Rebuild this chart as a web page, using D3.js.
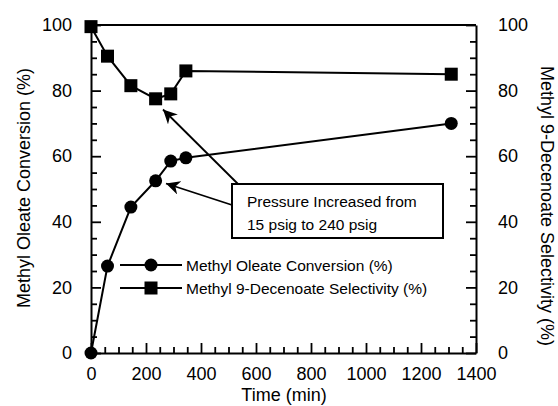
<!DOCTYPE html>
<html><head><meta charset="utf-8">
<script src="https://cdn.jsdelivr.net/npm/d3@7"></script>
<style>body{margin:0;background:#fff}svg{display:block}text{font-family:Arial,"Liberation Sans",sans-serif;fill:#000}</style>
</head><body><svg id="c" width="558" height="406"></svg>
<script>
const timeMin = [0, 60, 145, 235, 290, 345, 1310];
const conversion = [0, 26.5, 44.5, 52.5, 58.5, 59.5, 70];
const selectivity = [99.5, 90.5, 81.5, 77.5, 79, 86, 85];
const xTicks = [0, 200, 400, 600, 800, 1000, 1200, 1400];
const yTicks = [0, 20, 40, 60, 80, 100];
const seriesNames = ["Methyl Oleate Conversion (%)", "Methyl 9-Decenoate Selectivity (%)"];
const annotation = ["Pressure Increased from", "15 psig to 240 psig"];

const svg = d3.select("#c");
const x = d3.scaleLinear().domain([0, 1400]).range([91, 476]);
const y = d3.scaleLinear().domain([0, 100]).range([353, 25]);
const y2 = d3.scaleLinear().domain([0, 100]).range([353, 25]);
const fmt = d3.format("d");

const lw = 2;
// frame top
svg.append("line").attr("x1", x(0)).attr("x2", x(1400)).attr("y1", y(100)).attr("y2", y(100)).attr("stroke", "#000").attr("stroke-width", lw);

function styleAxis(g){
  g.select(".domain").attr("stroke-width", lw);
  g.selectAll(".tick line").attr("stroke-width", 1.8);
  g.selectAll(".tick text").style("font-size", "18px").style("font-family", "Arial, 'Liberation Sans', sans-serif");
}
const minorX = d3.range(0, 1401, 50).filter(v => v % 200 !== 0);
const minorY = d3.range(0, 101, 5).filter(v => v % 20 !== 0);

// bottom axis
const gx = svg.append("g").attr("transform", `translate(0,${y(0)})`)
  .call(d3.axisBottom(x).tickValues(xTicks).tickFormat(fmt).tickSize(-10).tickPadding(14).tickSizeOuter(0));
styleAxis(gx);
svg.append("g").attr("transform", `translate(0,${y(0)})`)
  .call(d3.axisBottom(x).tickValues(minorX).tickSize(-6).tickFormat("").tickSizeOuter(0))
  .call(g => { g.select(".domain").remove(); g.selectAll("line").attr("stroke-width", 1.8); });

// left axis
const gy = svg.append("g").attr("transform", `translate(${x(0)},0)`)
  .call(d3.axisLeft(y).tickValues(yTicks).tickFormat(fmt).tickSize(-10).tickPadding(19).tickSizeOuter(0));
styleAxis(gy);
svg.append("g").attr("transform", `translate(${x(0)},0)`)
  .call(d3.axisLeft(y).tickValues(minorY).tickSize(-6).tickFormat("").tickSizeOuter(0))
  .call(g => { g.select(".domain").remove(); g.selectAll("line").attr("stroke-width", 1.8); });

// right axis
const gy2 = svg.append("g").attr("transform", `translate(${x(1400)},0)`)
  .call(d3.axisRight(y2).tickValues(yTicks).tickFormat(fmt).tickSize(-10).tickPadding(22).tickSizeOuter(0));
styleAxis(gy2);
svg.append("g").attr("transform", `translate(${x(1400)},0)`)
  .call(d3.axisRight(y2).tickValues(minorY).tickSize(-6).tickFormat("").tickSizeOuter(0))
  .call(g => { g.select(".domain").remove(); g.selectAll("line").attr("stroke-width", 1.8); });

// axis titles
svg.append("text").attr("x", 284).attr("y", 401).attr("text-anchor", "middle").style("font-size", "18px").text("Time (min)");
svg.append("text").attr("transform", `translate(30,188) rotate(-90)`).attr("text-anchor", "middle").style("font-size", "18px").text("Methyl Oleate Conversion (%)");
svg.append("text").attr("transform", `translate(541,206) rotate(90)`).attr("text-anchor", "middle").style("font-size", "18px").text("Methyl 9-Decenoate Selectivity (%)");

// data
const convData = timeMin.map((t, i) => [t, conversion[i]]);
const selData = timeMin.map((t, i) => [t, selectivity[i]]);
const line = d3.line().x(d => x(d[0])).y(d => y(d[1]));
svg.append("path").datum(selData).attr("d", line).attr("fill", "none").attr("stroke", "#000").attr("stroke-width", lw);
svg.append("path").datum(convData).attr("d", line).attr("fill", "none").attr("stroke", "#000").attr("stroke-width", lw);
const sq = 13;
svg.selectAll(".sq").data(selData).enter().append("rect")
  .attr("x", d => x(d[0]) - sq/2).attr("y", d => y2(d[1]) - sq/2).attr("width", sq).attr("height", sq).attr("fill", "#000");
svg.selectAll(".ci").data(convData).enter().append("circle")
  .attr("cx", d => x(d[0])).attr("cy", d => y(d[1])).attr("r", 6.5).attr("fill", "#000");

// legend
const leg = svg.append("g");
[265, 288].forEach((ly, i) => {
  leg.append("line").attr("x1", 120).attr("x2", 182).attr("y1", ly).attr("y2", ly).attr("stroke", "#000").attr("stroke-width", lw);
  if (i === 0) leg.append("circle").attr("cx", 151).attr("cy", ly).attr("r", 6.5).attr("fill", "#000");
  else leg.append("rect").attr("x", 151 - sq/2).attr("y", ly - sq/2).attr("width", sq).attr("height", sq).attr("fill", "#000");
  leg.append("text").attr("x", 186).attr("y", ly + 5.5).style("font-size", "15.5px").text(seriesNames[i]);
});

// annotation box
svg.append("rect").attr("x", 232).attr("y", 184).attr("width", 211).attr("height", 54).attr("fill", "#fff").attr("stroke", "#000").attr("stroke-width", lw);
annotation.forEach((t, i) => {
  svg.append("text").attr("x", 247).attr("y", 207 + i * 23).style("font-size", "15.5px").text(t);
});

// arrows
const defs = svg.append("defs");
defs.append("marker").attr("id", "ah").attr("viewBox", "0 0 10 10").attr("refX", 10).attr("refY", 5)
  .attr("markerWidth", 14).attr("markerHeight", 14).attr("markerUnits", "userSpaceOnUse").attr("orient", "auto")
  .append("path").attr("d", "M0,0 L10,5 L0,10 L3,5 Z").attr("fill", "#000");
const arrows = [[238, 184, 163, 109.5], [232, 205, 166, 183.5]];
arrows.forEach(a => {
  svg.append("line").attr("x1", a[0]).attr("y1", a[1]).attr("x2", a[2]).attr("y2", a[3])
    .attr("stroke", "#000").attr("stroke-width", 1.8).attr("marker-end", "url(#ah)");
});
</script></body></html>
